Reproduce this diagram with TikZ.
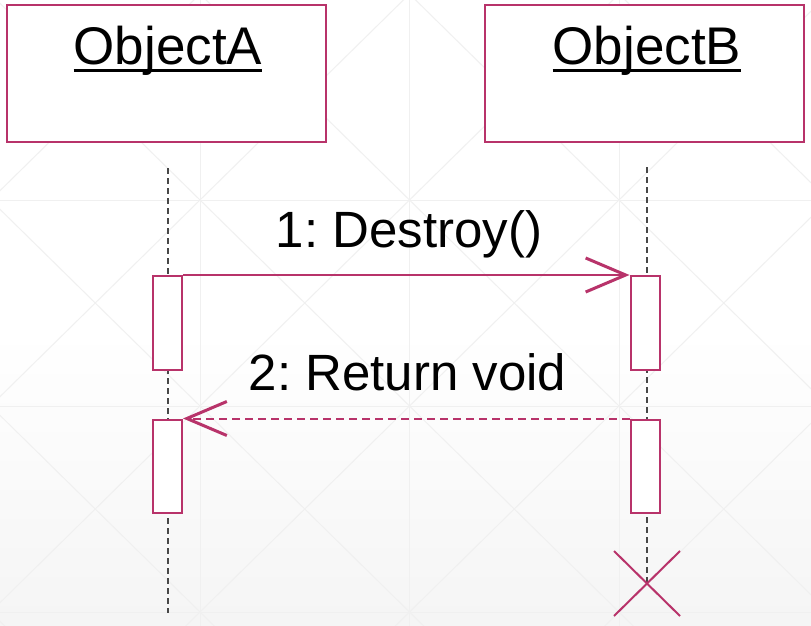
\documentclass[tikz,border=0pt]{standalone}
\usepackage{fontspec}
\setmainfont{Liberation Sans}
\usetikzlibrary{arrows.meta}
\definecolor{umlred}{HTML}{B8336A}
\definecolor{gridgray}{HTML}{F0F0F0}
\tikzset{
  objbox/.style={draw=umlred,line width=2pt,fill=white,inner sep=0pt},
  objlabel/.style={inner sep=0pt,anchor=base,font=\fontsize{53}{60}\selectfont},
  actbox/.style={draw=umlred,line width=2pt,fill=white,inner sep=0pt,minimum width=29.5pt,minimum height=93.5pt},
  lifeline/.style={draw=black!72,line width=2pt,dash pattern=on 6pt off 4pt},
  msglabel/.style={inner sep=0pt,anchor=base,font=\fontsize{51}{58}\selectfont},
  callmsg/.style={draw=umlred,line width=2pt,-{Straight Barb[length=40pt,width=34pt,line width=3pt]}},
  returnmsg/.style={callmsg,dash pattern=on 8pt off 5pt},
  gridline/.style={draw=gridgray,line width=1pt},
  destroyx/.style={draw=umlred,line width=2pt}
}
\begin{document}
\frenchspacing
\begin{tikzpicture}[x=1pt,y=-1pt]
\useasboundingbox (0,0) rectangle (811,626);
% background
\fill[white] (0,0) rectangle (811,626);
\shade[top color=white,bottom color=black!4] (0,330) rectangle (811,626);
\begin{scope}
\clip (0,0) rectangle (811,626);
\foreach \xa/\xb in {-9.5/200,200/409.5,409.5/619,619/828.5}{
  \foreach \ya/\yb in {-6/200,200/406,406/612,612/818}{
    \draw[gridline] (\xa,\ya) -- (\xb,\yb);
    \draw[gridline] (\xb,\ya) -- (\xa,\yb);
  }
}
\foreach \gx in {200,409.5,619} \draw[gridline] (\gx,0) -- (\gx,626);
\foreach \gy in {200,406,612} \draw[gridline] (0,\gy) -- (811,\gy);
\end{scope}
% object boxes
\node[objbox,minimum width=319pt,minimum height=137pt] (objA) at (166.5,73.5) {};
\node[objbox,minimum width=319.5pt,minimum height=137pt] (objB) at (644.25,73.5) {};
\node[objlabel] (labA) at (168,64) {ObjectA};
\node[objlabel] (labB) at (647,64) {ObjectB};
\draw[line width=3pt] ([yshift=-6.5pt]labA.base west) -- ([yshift=-6.5pt]labA.base east);
\draw[line width=3pt] ([yshift=-6.5pt]labB.base west) -- ([yshift=-6.5pt]labB.base east);
% lifelines
\coordinate (lAtop) at (167.5,168);
\coordinate (lAbot) at (167.5,612.5);
\coordinate (lBtop) at (647,167);
\coordinate (xc) at (647,583);
\draw[lifeline] (lAtop) -- (lAbot);
\draw[lifeline] (lBtop) -- (xc);
% activation boxes
\node[actbox,anchor=north west] (a1) at (151.5,275) {};
\node[actbox,anchor=north west] (b1) at (629.5,275) {};
\node[actbox,anchor=north west] (a2) at (151.5,418.5) {};
\node[actbox,anchor=north west] (b2) at (629.5,418.5) {};
% messages
\draw[callmsg] (a1.north east) -- (b1.north west);
\draw[returnmsg] (b2.north west) -- (a2.north east);
\node[msglabel] (m1) at (409,247) {1: Destroy()};
\node[msglabel] (m2) at (407.5,390) {2: Return void};
% destruction mark
\draw[destroyx] ([shift={(-33,-32)}]xc) -- ([shift={(33,33)}]xc);
\draw[destroyx] ([shift={(33,-32)}]xc) -- ([shift={(-33,33)}]xc);
\end{tikzpicture}
\end{document}
